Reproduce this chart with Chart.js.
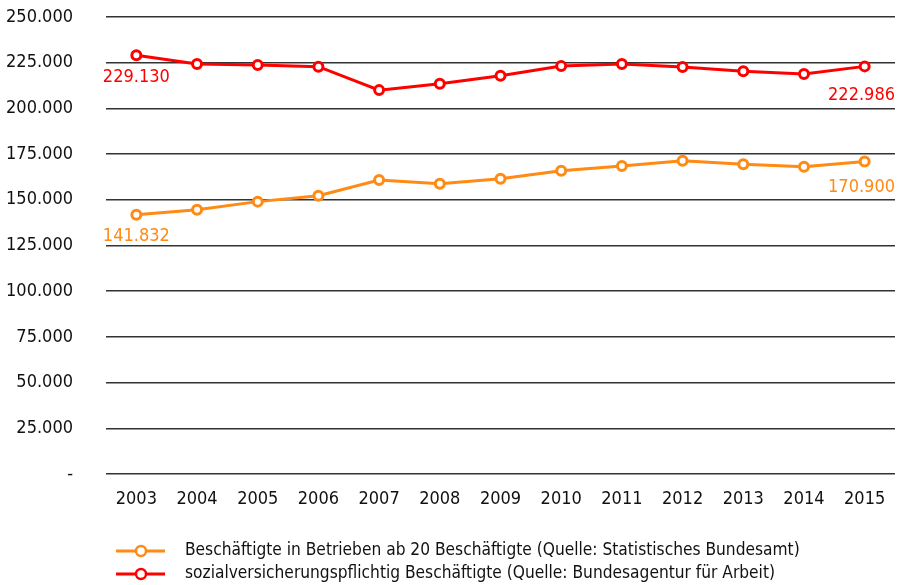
<!DOCTYPE html>
<html>
<head>
<meta charset="utf-8">
<script src="https://cdn.jsdelivr.net/npm/chart.js@4.4.1/dist/chart.umd.min.js"></script>
<style>
html,body{margin:0;padding:0;background:#fff;}
#wrap{width:904px;height:585px;position:relative;}
</style>
</head>
<body>
<div id="wrap"><canvas id="c" width="904" height="585"></canvas></div>
<script>
const years = ['2003','2004','2005','2006','2007','2008','2009','2010','2011','2012','2013','2014','2015'];
const betriebeValues = [141832,144600,149000,152200,160800,158800,161500,165900,168500,171400,169400,168100,170900];
const svbValues = [229130,224300,223700,222800,210000,213500,217900,223200,224300,222600,220300,218800,222986];
const seriesLabels = [
  'Beschäftigte in Betrieben ab 20 Beschäftigte (Quelle: Statistisches Bundesamt)',
  'sozialversicherungspflichtig Beschäftigte (Quelle: Bundesagentur für Arbeit)'
];
const yTickValues = [0,25000,50000,75000,100000,125000,150000,175000,200000,225000,250000];

const ORANGE = '#ff8a14';
const RED = '#ff0000';
const FONT = "'DejaVu Sans Condensed','DejaVu Sans',sans-serif";

function fmt(v){
  if (v === 0) return '-';
  return String(Math.round(v)).replace(/\B(?=(\d{3})+(?!\d))/g, '.');
}

const endLabels = {
  id: 'endLabels',
  afterDatasetsDraw(chart) {
    const ctx = chart.ctx;
    ctx.save();
    ctx.font = '18px ' + FONT;
    ctx.textBaseline = 'middle';
    chart.data.datasets.forEach((ds, i) => {
      const meta = chart.getDatasetMeta(i);
      const first = meta.data[0], last = meta.data[meta.data.length - 1];
      ctx.fillStyle = ds.borderColor;
      ctx.textAlign = 'center';
      ctx.fillText(fmt(ds.data[0]), first.x, first.y + 22);
      ctx.textAlign = 'right';
      ctx.fillText(fmt(ds.data[ds.data.length - 1]), chart.chartArea.right, last.y + (i === 1 ? 29 : 26));
    });
    ctx.restore();
  }
};

const customLegend = {
  id: 'customLegend',
  afterDraw(chart) {
    const ctx = chart.ctx;
    ctx.save();
    const rows = [551, 574];
    chart.data.datasets.forEach((ds, r) => {
      const y = rows[r];
      ctx.strokeStyle = ds.borderColor;
      ctx.lineWidth = 3;
      ctx.beginPath();
      ctx.moveTo(116, y);
      ctx.lineTo(165, y);
      ctx.stroke();
      ctx.beginPath();
      ctx.arc(141, y, 5, 0, Math.PI * 2);
      ctx.fillStyle = '#fff';
      ctx.fill();
      ctx.lineWidth = 2.5;
      ctx.stroke();
      ctx.fillStyle = '#111';
      ctx.font = '17.2px ' + FONT;
      ctx.textAlign = 'left';
      ctx.textBaseline = 'middle';
      ctx.fillText(ds.label, 185, y);
    });
    ctx.restore();
  }
};

new Chart(document.getElementById('c'), {
  type: 'line',
  data: {
    labels: years,
    datasets: [
      {
        label: seriesLabels[0],
        data: betriebeValues,
        borderColor: ORANGE,
        backgroundColor: '#fff',
        pointBackgroundColor: '#fff',
        pointBorderColor: ORANGE,
        borderWidth: 3,
        pointRadius: 4.5,
        pointBorderWidth: 3,
        tension: 0
      },
      {
        label: seriesLabels[1],
        data: svbValues,
        borderColor: RED,
        backgroundColor: '#fff',
        pointBackgroundColor: '#fff',
        pointBorderColor: RED,
        borderWidth: 3,
        pointRadius: 4.5,
        pointBorderWidth: 3,
        tension: 0
      }
    ]
  },
  options: {
    responsive: false,
    animation: false,
    layout: { padding: { top: 17, left: 0, right: 9, bottom: 71 } },
    plugins: {
      legend: { display: false },
      tooltip: { enabled: false }
    },
    scales: {
      x: {
        offset: true,
        grid: { display: false, drawTicks: false },
        border: { display: false },
        ticks: { color: '#111', font: { family: FONT, size: 18 }, padding: 15, maxRotation: 0, autoSkip: false },
        afterFit(scale) { scale.height = 40; scale.paddingLeft = 0; scale.paddingRight = 0; }
      },
      y: {
        min: 0,
        max: 250000,
        afterBuildTicks(axis) { axis.ticks = yTickValues.map(v => ({ value: v })); },
        grid: { color: '#333', lineWidth: 1.6, drawTicks: false },
        border: { display: false },
        ticks: {
          color: '#111',
          font: { family: FONT, size: 18 },
          padding: 33,
          callback: (v) => fmt(v)
        },
        afterFit(scale) { scale.width = 106; scale.paddingTop = 0; scale.paddingBottom = 0; }
      }
    }
  },
  plugins: [endLabels, customLegend]
});
</script>
</body>
</html>
